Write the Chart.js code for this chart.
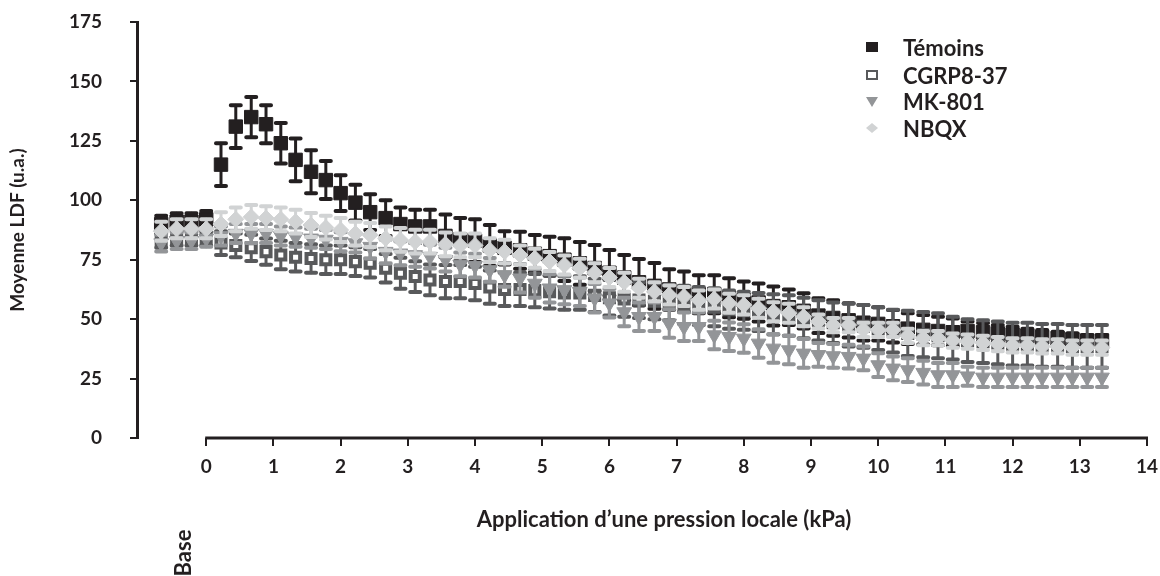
<!DOCTYPE html>
<html><head><meta charset="utf-8">
<script src="https://cdn.jsdelivr.net/npm/chart.js@4.4.1/dist/chart.umd.min.js"></script>
<style>html,body{margin:0;padding:0;background:#fff;}#wrap{width:1160px;height:576px;position:relative;}</style>
</head><body><div id="wrap"><canvas id="c" width="1160" height="576"></canvas></div>
<script>
// Pressure (kPa); the first four points are the baseline ("Base")
const pressure = [-0.67,-0.44,-0.22,0,
 0.22,0.44,0.67,0.89,1.11,1.33,1.56,1.78,2.00,2.22,2.44,2.67,2.89,3.11,3.33,
 3.56,3.78,4.00,4.22,4.44,4.67,4.89,5.11,5.33,5.56,5.78,6.00,6.22,6.44,6.67,
 6.89,7.11,7.33,7.56,7.78,8.00,8.22,8.44,8.67,8.89,9.11,9.33,9.56,9.78,10.00,
 10.22,10.44,10.67,10.89,11.11,11.33,11.56,11.78,12.00,12.22,12.44,12.67,12.89,13.11,13.33];

const temoins = [90,91,91,92,
 115,131,135,132,124,117,112,108.5,103,99,95,92.5,90,89,89,
 85,83.5,83,81,80,79,77.5,76.5,75,73.5,71.5,69.5,67.5,65.5,64,
 62.5,61.5,60.5,60.5,59,58,57,55.5,55,53.5,51.5,50.5,49.5,48.5,48,
 47,46,45.5,45,44.5,45,44.5,44,43.5,43,42.5,42,41.5,41,41];
const temoinsSem = [3.5,3.5,3.5,3.5,
 9,9,8.5,8,8.5,9,9,8,7.5,7.5,7.5,7.5,7,7,7,
 9,9,9,8.6,7,7.8,7.9,8.2,9,9,9.7,9.6,9.5,9.8,9.6,
 8.5,8.5,8,8,8.2,7.8,8,8.2,7.5,7.4,7.3,7.5,7.2,7.5,7,
 6.8,6.5,6.2,6,5.8,4,3.9,3.5,3.3,3,2.9,2.7,2.6,2.3,2.3];

const cgrp = [83,84,84,84,
 82,81,80,78.4,77,76,75.5,75,75,74.2,73.5,71.4,69.3,67.9,66.5,
 65.8,65.8,65,63.5,62.5,62.5,62,61.5,61,61,60,59,58.5,58,57.5,
 57,56,55.5,55,54,53.5,53,52,51.5,50.5,49.5,48.5,47.5,47,46,
 45,44,43.5,43,42,41,40.5,40,39.5,39.5,39,39,38.5,38.5,38.5];
const cgrpSem = [3,3,3,3,
 5,5,5.5,5.5,6,6,6,6,6,6,6,6,6.5,6.5,6.5,
 7,7,7,7,7,7,7,7,7,7,7,7.5,7.5,7.5,7.5,
 7.5,8,8,8,8,8,8,8.5,8.5,8.5,8.5,8.5,9,9,9,
 9,9.5,9.5,9.5,9,9,9,9,9,9,9,9,9,9,9];

const mk801 = [82,83,83,84,
 85,86,86,86,85,84.5,84,83.5,82.6,82,80.5,78.4,77.7,77,76.3,
 75,73,72.5,70.7,68.6,67.2,65,63,62.3,61.5,58.8,56.7,53,51,51,
 48.2,46.8,46.8,43.3,42.6,41.9,39.8,37.7,37,35.6,35,34.5,34.2,33.5,30.7,
 29.3,28.6,27.5,26.5,26.5,26,25.5,25.5,25.5,25.5,25.5,25.5,25.5,25.5,25.5];
const mk801Sem = [3.5,3.5,3.5,3.5,
 4,4,4,4,4,4,4,4,4,4,5,5,5,5,5,
 5,5,5,5,5,6,6,6,6,6,6,6,6,6,6,
 6,6,6,6,6,6,6,6,6,6,5,5,5,5,5,
 5,5,5,5,5,4,4,4,4,4,4,4,4,4,4];

const nbqx = [87,88,88,88,
 90,92,93,92.5,92,91,89.6,88.5,87.5,86,85.4,84,83.3,82.6,82.6,
 81.5,81,81,79,78.4,77,75.6,74.2,72.8,71.4,69.5,67.5,65.5,63,61.5,
 60.2,59.5,58,58.5,56.7,56,54.6,53.1,52.5,51,49,47.5,47.5,45.5,45.5,
 45.5,43,42,42,41,40.5,40,39.5,39,39,38.5,38.5,38,38,38];
const nbqxSem = [4,4,4,4,
 5,5,5,5,5,5,5,5,5,5,5,5,5,5,5,
 5,5,5,5,5,4,4,4,4,4,4,4,4,4,4,
 4,4,4,4,4,4,4,4,4,4,3,3,3,3,3,
 3,3,3,3,3,3,3,3,3,3,3,3,3,3,3];

const seriesNames = ['Témoins','CGRP8-37','MK-801','NBQX'];
const xTickValues = [0,1,2,3,4,5,6,7,8,9,10,11,12,13,14];
const xTitle = 'Application d’une pression locale (kPa)';
const yTitle = 'Moyenne LDF (u.a.)';
const baseLabel = 'Base';

const INK = '#231f20';
const colors = ['#231f20','#58595b','#939598','#d1d3d4'];
const FONT = 'Lato, "Open Sans", sans-serif';

function pts(vals){ return vals.map((v,i)=>({x:pressure[i], y:v})); }
const semSets = [temoinsSem, cgrpSem, mk801Sem, nbqxSem];

// pin the plot area to the reference geometry
const fixArea = {
  id:'fixArea',
  afterLayout(chart){
    const ca = chart.chartArea;
    const xs = chart.scales.x, ys = chart.scales.y;
    ca.left = 137; ca.top = 22; ca.right = 1147; ca.bottom = 438;
    ca.width = ca.right - ca.left; ca.height = ca.bottom - ca.top;
    ys.top = 22; ys.bottom = 438; ys.height = 416;
    xs.left = 137; xs.right = 1147; xs.width = 1010;
    ys.configure(); xs.configure();
  }
};

const errorBars = {
  id:'errorBars',
  beforeDatasetDraw(chart, args){
    const i = args.index;
    const sem = semSets[i];
    const ds = chart.data.datasets[i];
    const xs = chart.scales.x, ys = chart.scales.y;
    const ctx = chart.ctx;
    ctx.save();
    ctx.strokeStyle = colors[i];
    ctx.lineCap = 'round';
    ds.data.forEach((p,k)=>{
      const px = xs.getPixelForValue(p.x);
      const t = ys.getPixelForValue(p.y + sem[k]);
      const b = ys.getPixelForValue(p.y - sem[k]);
      ctx.lineWidth = 3;
      ctx.beginPath(); ctx.moveTo(px,t); ctx.lineTo(px,b); ctx.stroke();
      ctx.lineWidth = 4;
      ctx.beginPath();
      ctx.moveTo(px-5,t); ctx.lineTo(px+5,t);
      ctx.moveTo(px-5,b); ctx.lineTo(px+5,b);
      ctx.stroke();
    });
    ctx.restore();
  }
};

const decor = {
  id:'decor',
  afterDraw(chart){
    const ctx = chart.ctx;
    const xs = chart.scales.x, ys = chart.scales.y;
    ctx.save();
    // x axis line from 0 to 14
    const yb = ys.getPixelForValue(0);
    ctx.strokeStyle = INK; ctx.lineWidth = 3;
    ctx.beginPath();
    ctx.moveTo(xs.getPixelForValue(0)-1, yb);
    ctx.lineTo(xs.getPixelForValue(14)+1, yb);
    ctx.stroke();
    // x title
    ctx.fillStyle = INK;
    ctx.font = 'bold 22px ' + FONT;
    ctx.textAlign = 'center'; ctx.textBaseline = 'middle';
    ctx.fillText(xTitle, 664, 520);
    // Base label (rotated)
    ctx.save();
    ctx.translate(xs.getPixelForValue(-0.33), 553);
    ctx.rotate(-Math.PI/2);
    ctx.fillText(baseLabel, 0, 0);
    ctx.restore();
    // legend
    const lx = 872, tx = 903;
    const ly = [47, 75, 101, 128];
    ctx.font = 'bold 22px ' + FONT;
    ctx.textAlign = 'left';
    seriesNames.forEach((name,i)=>{
      const y = ly[i];
      ctx.fillStyle = colors[i];
      if (i===0){ ctx.fillRect(lx-6, y-5, 12, 10); }
      else if (i===1){ ctx.strokeStyle = colors[1]; ctx.lineWidth = 2; ctx.strokeRect(lx-5, y-4, 10, 8); }
      else if (i===2){ ctx.beginPath(); ctx.moveTo(lx-6,y-4); ctx.lineTo(lx+6,y-4); ctx.lineTo(lx,y+6); ctx.closePath(); ctx.fill(); }
      else { ctx.beginPath(); ctx.moveTo(lx-6,y); ctx.lineTo(lx,y-5); ctx.lineTo(lx+6,y); ctx.lineTo(lx,y+5); ctx.closePath(); ctx.fill(); }
      ctx.fillStyle = INK;
      ctx.fillText(name, tx, y+2);
    });
    ctx.restore();
  }
};

Chart.defaults.font.family = FONT;
Chart.defaults.font.weight = 'bold';
Chart.defaults.font.size = 19;
Chart.defaults.color = INK;

new Chart(document.getElementById('c'), {
  type:'scatter',
  data:{ datasets:[
    {label:seriesNames[0], data:pts(temoins), order:3, pointStyle:'rect', pointRadius:9.5, backgroundColor:colors[0], borderColor:colors[0], borderWidth:1},
    {label:seriesNames[1], data:pts(cgrp), order:2, pointStyle:'rect', pointRadius:6.4, backgroundColor:'#ffffff', borderColor:colors[1], borderWidth:4},
    {label:seriesNames[2], data:pts(mk801), order:1, pointStyle:'triangle', rotation:180, pointRadius:8.5, backgroundColor:colors[2], borderColor:colors[2], borderWidth:1},
    {label:seriesNames[3], data:pts(nbqx), order:0, pointStyle:'rectRot', pointRadius:8, backgroundColor:colors[3], borderColor:colors[3], borderWidth:1}
  ]},
  options:{
    responsive:false, animation:false, events:[],
    layout:{padding:{top:22, right:13, left:0, bottom:0}},
    plugins:{legend:{display:false}, tooltip:{enabled:false}},
    scales:{
      x:{
        type:'linear', min:-1.03, max:14,
        afterBuildTicks:(s)=>{ s.ticks = xTickValues.map(v=>({value:v})); },
        border:{display:false},
        grid:{drawOnChartArea:false, drawTicks:true, tickLength:8, color:INK, lineWidth:2},
        ticks:{padding:9, autoSkip:false, maxRotation:0, color:INK},
        afterFit:(s)=>{ s.height = 138; }
      },
      y:{
        min:0, max:175,
        ticks:{stepSize:25, padding:28, color:INK},
        border:{display:true, width:3, color:INK},
        grid:{drawOnChartArea:false, drawTicks:true, tickLength:7, color:INK, lineWidth:2},
        title:{display:true, text:yTitle, padding:{top:6, bottom:0}, color:INK, font:{size:19, weight:'bold'}},
        afterFit:(s)=>{ s.width = 137; }
      }
    }
  },
  plugins:[fixArea, errorBars, decor]
});
</script></body></html>
